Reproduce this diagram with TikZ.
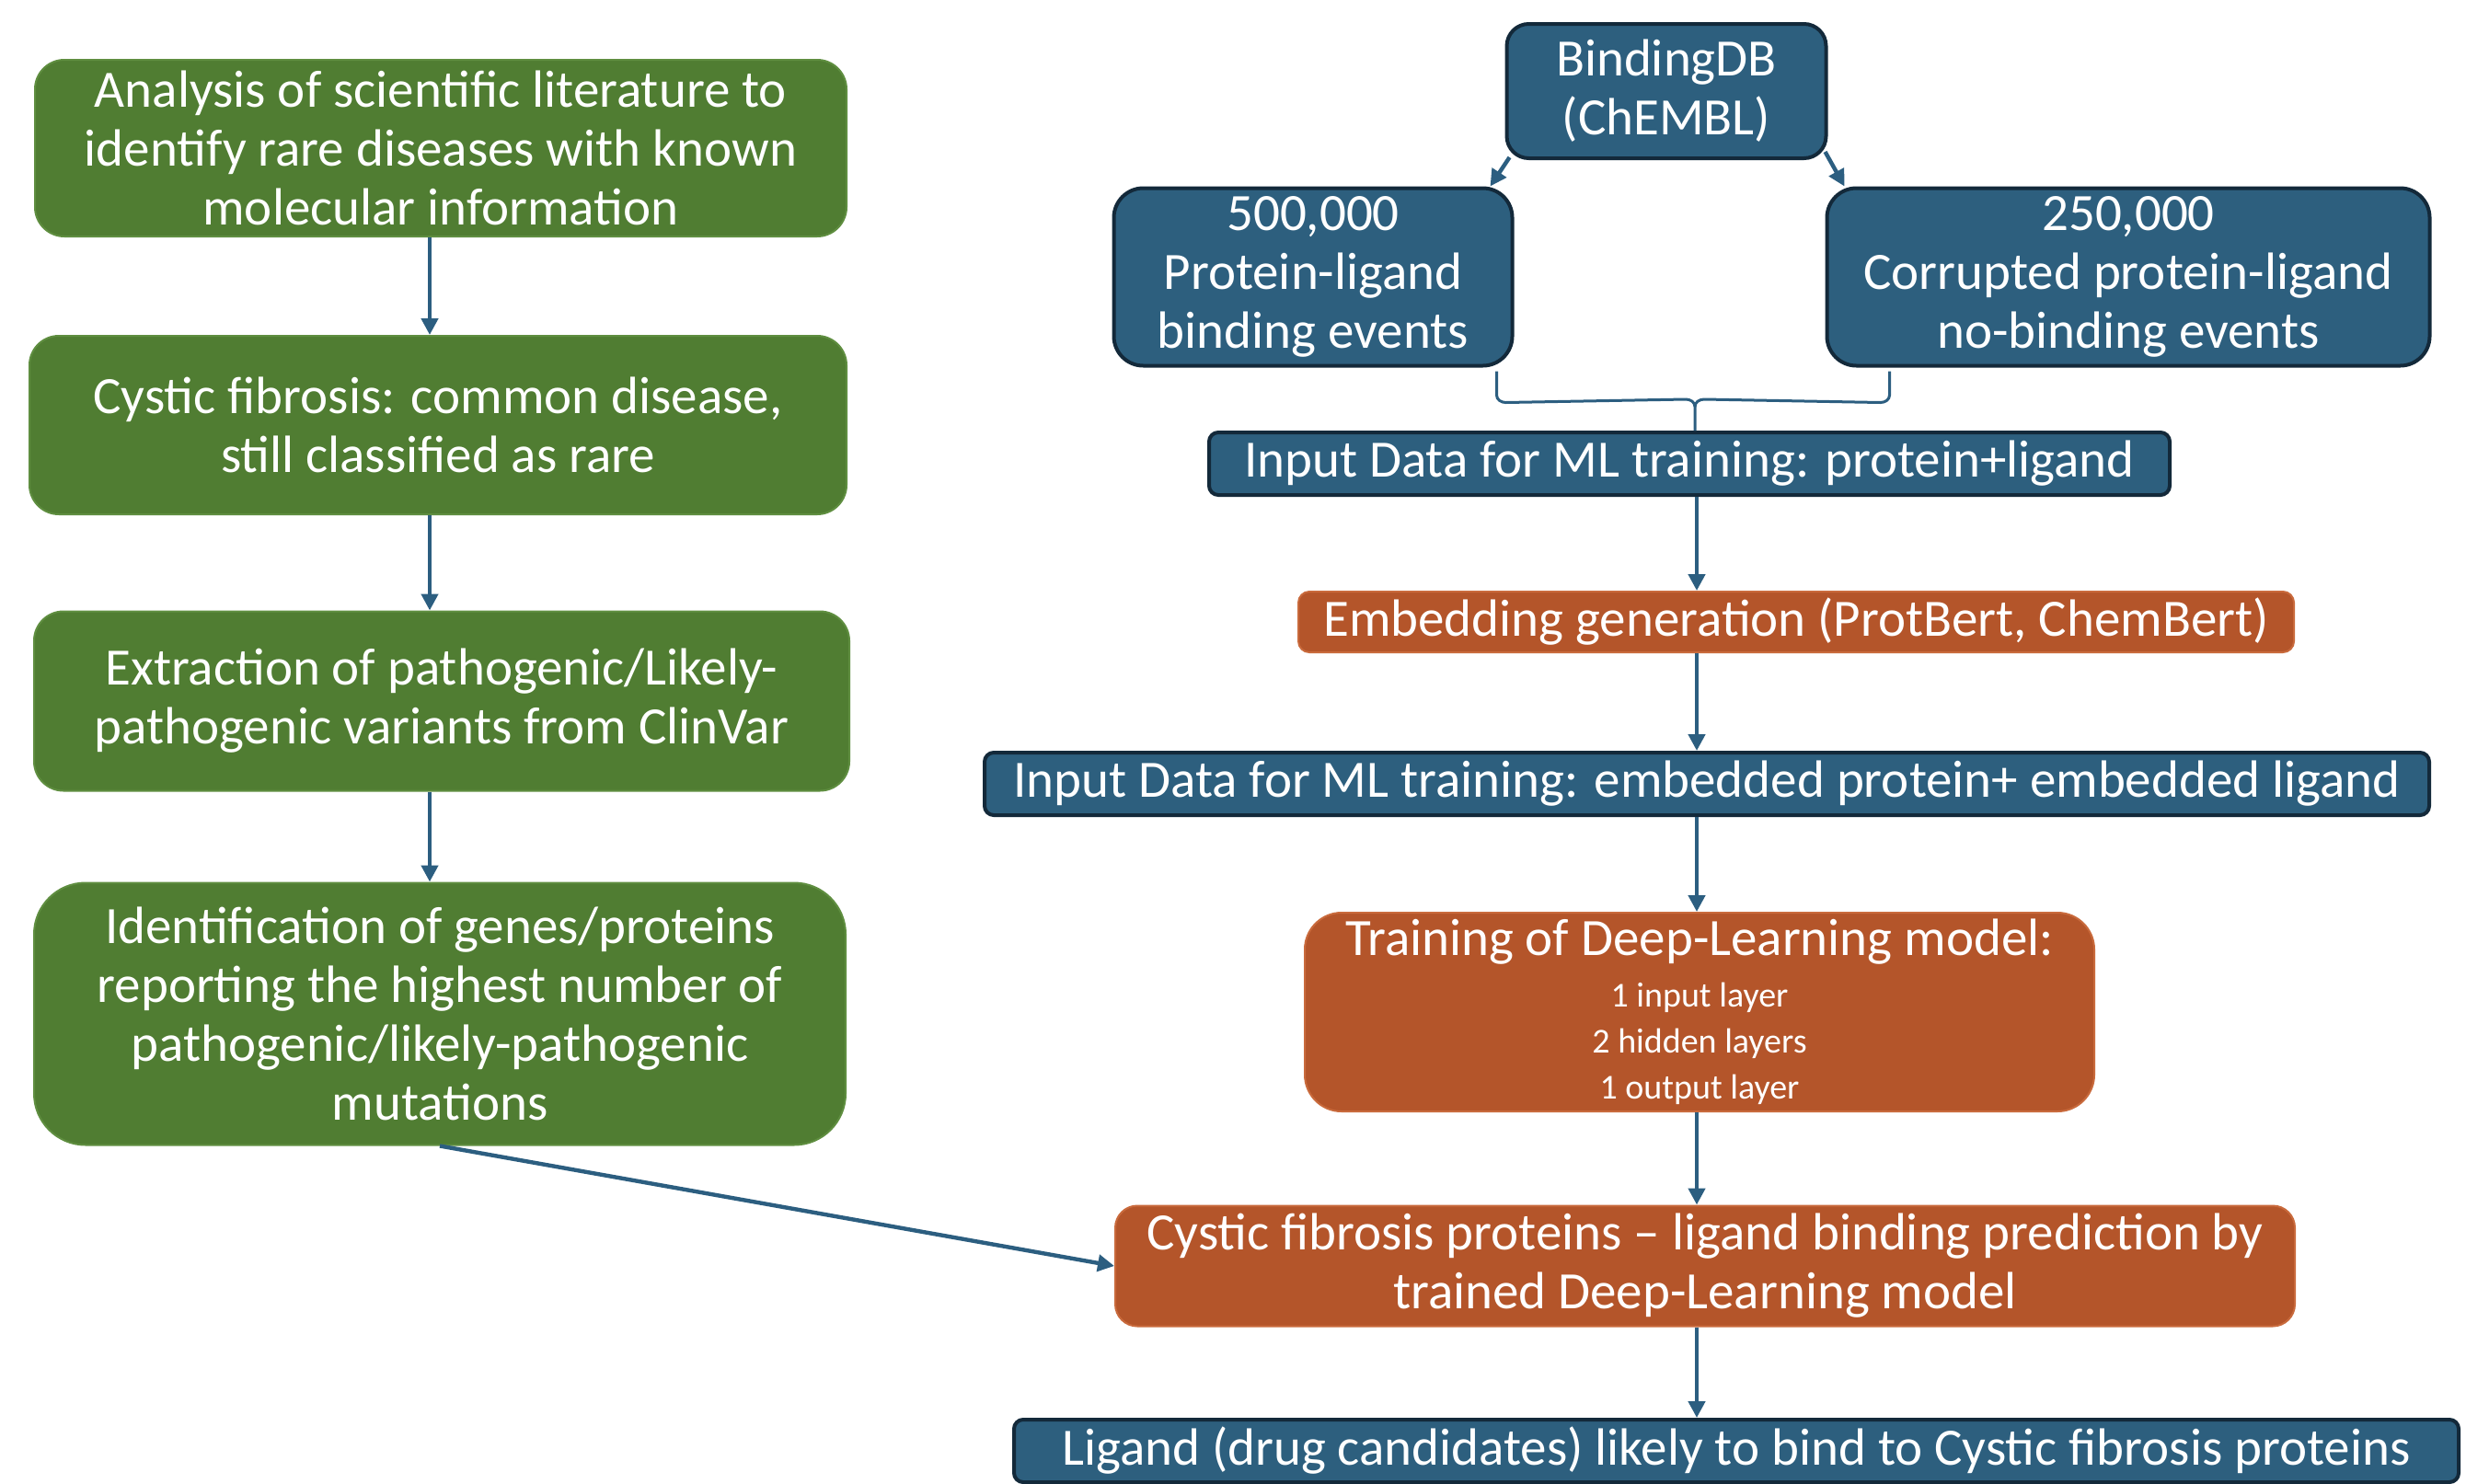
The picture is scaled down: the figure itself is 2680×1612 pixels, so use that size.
\documentclass[tikz,border=0pt]{standalone}
\usepackage{fontspec}
\setmainfont{Carlito}
\usetikzlibrary{arrows.meta,calc}
\definecolor{grn}{HTML}{507D32}
\definecolor{grnline}{HTML}{5F8E40}
\definecolor{blu}{HTML}{2D5F7E}
\definecolor{bluline}{HTML}{13293A}
\definecolor{org}{HTML}{B4552A}
\definecolor{orgline}{HTML}{C96A3C}
\definecolor{arr}{HTML}{2C5E80}
\newcommand{\bigtxt}{\fontsize{28.5}{32}\selectfont}
\newcommand{\smalltxt}{\fontsize{19}{25}\selectfont}
\tikzset{
  box/.style={align=center, text=white, inner sep=0pt, font=\bigtxt},
  gbox/.style={box, fill=grn, draw=grnline, line width=1pt, rounded corners=16pt},
  bbox/.style={box, fill=blu, draw=bluline, line width=2pt},
  obox/.style={box, fill=org, draw=orgline, line width=1pt},
  conn/.style={draw=arr, line width=2.2pt, -{Triangle[length=9pt,width=9pt]}},
  brc/.style={draw=arr, line width=1.5pt},
}
\begin{document}
\begin{tikzpicture}[x=0.5pt,y=-0.5pt]
\useasboundingbox (0,0) rectangle (2680,1612);
\fill[white] (0,0) rectangle (2680,1612);
% left column
\node[gbox, minimum width=441pt, minimum height=96pt] (g1) at (479,161)
  {Analysis of scientific literature to\\identify rare diseases with known\\molecular information};
\node[gbox, minimum width=444pt, minimum height=97pt] (g2) at (476,462)
  {Cystic fibrosis: common disease,\\still classified as rare};
\node[gbox, minimum width=443pt, minimum height=97.5pt] (g3) at (480,762)
  {Extraction of pathogenic/Likely-\\pathogenic variants from ClinVar};
\node[gbox, rounded corners=28pt, minimum width=441pt, minimum height=142.5pt] (g4) at (478,1102)
  {Identification of genes/proteins\\reporting the highest number of\\pathogenic/likely-pathogenic\\mutations};
% right column
\node[bbox, rounded corners=12pt, minimum width=173.5pt, minimum height=73pt] (bdb) at (1811,99)
  {BindingDB\\(ChEMBL)};
\node[bbox, rounded corners=16pt, minimum width=216.5pt, minimum height=96.5pt] (b500) at (1427,301)
  {500,000\\Protein-ligand\\binding events};
\node[bbox, rounded corners=16pt, minimum width=327.5pt, minimum height=96.5pt] (b250) at (2313,301)
  {250,000\\Corrupted protein-ligand\\no-binding events};
\node[bbox, rounded corners=5pt, minimum width=522pt, minimum height=34pt] (in1) at (1836,504)
  {Input Data for ML training: protein+ligand};
\node[obox, rounded corners=6pt, minimum width=541pt, minimum height=33pt] (emb) at (1952,676)
  {Embedding generation (ProtBert, ChemBert)};
\node[bbox, rounded corners=5pt, minimum width=785pt, minimum height=34pt] (in2) at (1855,852)
  {Input Data for ML training: embedded protein+ embedded ligand};
\node[obox, font=\smalltxt, rounded corners=20pt, minimum width=429pt, minimum height=108pt] (trn) at (1847,1100)
  {{\bigtxt Training of Deep-Learning model:}\\[3pt]1 input layer\\2 hidden layers\\1 output layer};
\node[obox, rounded corners=12pt, minimum width=641pt, minimum height=65.5pt] (pred) at (1853,1376)
  {Cystic fibrosis proteins -- ligand binding prediction by\\trained Deep-Learning model};
\node[bbox, rounded corners=5pt, minimum width=785pt, minimum height=34pt] (fin) at (1887,1577)
  {Ligand (drug candidates) likely to bind to Cystic fibrosis proteins};
% spines
\coordinate (lx) at (467,0);
\coordinate (rx) at (1844,0);
% left arrows
\draw[conn] (g1.south -| lx) -- (g2.north -| lx);
\draw[conn] (g2.south -| lx) -- (g3.north -| lx);
\draw[conn] (g3.south -| lx) -- (g4.north -| lx);
\draw[conn] (g4.south) -- (pred.west);
% top arrows
\draw[conn] ($(bdb.south west)+(5,-3)$) -- ($(b500.north east)+(-26,0)$);
\draw[conn] ($(bdb.south east)+(-3,-9)$) -- ($(b250.north west)+(21,0)$);
% brace
\coordinate (bl) at ($(b500.south east)+(-19,4)$);
\coordinate (br) at ($(b250.south west)+(70,4)$);
\coordinate (bm) at ($(in1.north -| rx)+(-2,0)$);
\draw[brc] (bl) -- ++(0,26) to[out=-90,in=180] ++(10,8) -- ($(bm)+(-10,-34)$) to[out=0,in=90] ($(bm)+(0,-26)$) -- (bm);
\draw[brc] (br) -- ++(0,26) to[out=-90,in=0] ++(-10,8) -- ($(bm)+(10,-34)$) to[out=180,in=90] ($(bm)+(0,-26)$);
% right arrows
\draw[conn] (in1.south -| rx) -- (emb.north -| rx);
\draw[conn] (emb.south -| rx) -- (in2.north -| rx);
\draw[conn] (in2.south -| rx) -- (trn.north -| rx);
\draw[conn] (trn.south -| rx) -- (pred.north -| rx);
\draw[conn] (pred.south -| rx) -- (fin.north -| rx);
\end{tikzpicture}
\end{document}
